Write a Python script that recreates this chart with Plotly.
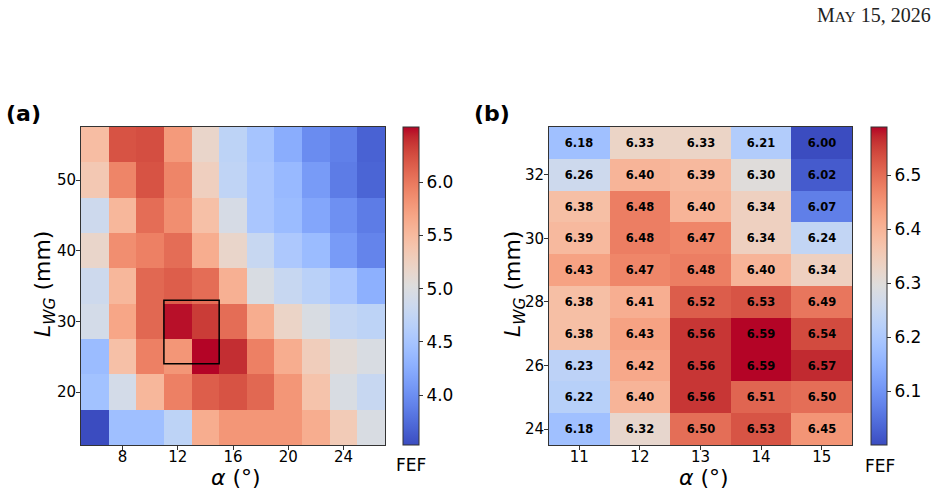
import plotly.graph_objects as go

# ---------------- data ----------------
# Panel (a): coarse scan
alpha_a = [6, 8, 10, 12, 14, 16, 18, 20, 22, 24, 26]
L_a = [55, 50, 45, 40, 35, 30, 25, 20, 15]
fef_a = [
    [5.47, 6.22, 6.25, 5.77, 5.17, 4.70, 4.49, 4.25, 3.98, 3.89, 3.68],
    [5.35, 5.92, 6.22, 5.92, 5.26, 4.73, 4.52, 4.37, 4.10, 3.86, 3.70],
    [4.85, 5.53, 6.07, 5.86, 5.44, 4.94, 4.52, 4.40, 4.19, 4.01, 3.86],
    [5.17, 5.86, 5.95, 6.07, 5.62, 5.17, 4.79, 4.55, 4.40, 4.10, 3.92],
    [4.85, 5.53, 6.10, 6.16, 6.07, 5.59, 4.97, 4.79, 4.67, 4.52, 4.28],
    [4.91, 5.68, 6.10, 6.49, 6.34, 6.07, 5.62, 5.20, 4.97, 4.76, 4.70],
    [4.40, 5.44, 5.95, 5.80, 6.52, 6.40, 5.95, 5.62, 5.29, 5.08, 4.97],
    [4.46, 4.91, 5.53, 5.95, 6.16, 6.22, 6.10, 5.80, 5.41, 4.97, 4.79],
    [3.53, 4.43, 4.43, 4.70, 5.62, 5.80, 5.80, 5.80, 5.62, 5.32, 4.97],
]
ticks_a_x = [8, 12, 16, 20, 24]
ticks_a_y = [20, 30, 40, 50]
cbar_a_ticks = [4.0, 4.5, 5.0, 5.5, 6.0]

# Panel (b): fine scan
alpha_b = [11, 12, 13, 14, 15]
L_b = [33, 32, 31, 30, 29, 28, 27, 26, 25, 24]
fef_b = [
    [6.18, 6.33, 6.33, 6.21, 6.00],
    [6.26, 6.40, 6.39, 6.30, 6.02],
    [6.38, 6.48, 6.40, 6.34, 6.07],
    [6.39, 6.48, 6.47, 6.34, 6.24],
    [6.43, 6.47, 6.48, 6.40, 6.34],
    [6.38, 6.41, 6.52, 6.53, 6.49],
    [6.38, 6.43, 6.56, 6.59, 6.54],
    [6.23, 6.42, 6.56, 6.59, 6.57],
    [6.22, 6.40, 6.56, 6.51, 6.50],
    [6.18, 6.32, 6.50, 6.53, 6.45],
]
ticks_b_x = [11, 12, 13, 14, 15]
ticks_b_y = [24, 26, 28, 30, 32]
cbar_b_ticks = [6.1, 6.2, 6.3, 6.4, 6.5]

x_title = "<i>α</i> (°)"
y_title = "<i>L</i><sub><i>WG</i></sub> (mm)"

# ---------------- style ----------------
coolwarm_rgb = [
    (59, 76, 192), (68, 90, 204), (77, 104, 215), (87, 117, 225), (98, 130, 234),
    (108, 142, 241), (119, 154, 247), (130, 165, 251), (141, 176, 254), (152, 185, 255),
    (163, 194, 255), (174, 201, 253), (184, 208, 249), (194, 213, 244), (204, 217, 238),
    (213, 219, 230), (221, 221, 221), (229, 216, 209), (236, 211, 197), (241, 204, 185),
    (245, 196, 173), (247, 187, 160), (247, 177, 148), (247, 166, 135), (244, 154, 123),
    (241, 141, 111), (236, 127, 99), (229, 112, 88), (222, 96, 77), (213, 80, 66),
    (203, 62, 56), (192, 40, 47), (180, 4, 38),
]
n = len(coolwarm_rgb) - 1
coolwarm = [[i / n, f"rgb{c}"] for i, c in enumerate(coolwarm_rgb)]

W, H = 940, 492
FONT = "DejaVu Sans"


def px_x(v):
    return v / W


def px_y(v):
    return 1 - v / H


flat_a = [v for r in fef_a for v in r]
flat_b = [v for r in fef_b for v in r]

fig = go.Figure()

fig.add_trace(go.Heatmap(
    x=alpha_a, y=L_a, z=fef_a, colorscale=coolwarm,
    zmin=min(flat_a), zmax=max(flat_a),
    xaxis="x", yaxis="y",
    colorbar=dict(
        x=px_x(403), xanchor="left", xpad=0, ypad=0,
        y=px_y(286), yanchor="middle", len=318, lenmode="pixels",
        thickness=16, thicknessmode="pixels",
        outlinewidth=1, outlinecolor="#333",
        tickvals=cbar_a_ticks, tickformat=".1f", ticks="outside",
        ticklen=4, tickcolor="#333",
        tickfont=dict(family=FONT, size=17, color="black"),
    ),
    hoverinfo="skip",
))

text_b = [[f"<b>{v:.2f}</b>" for v in r] for r in fef_b]
fig.add_trace(go.Heatmap(
    x=alpha_b, y=L_b, z=fef_b, colorscale=coolwarm,
    zmin=min(flat_b), zmax=max(flat_b),
    text=text_b, texttemplate="%{text}",
    textfont=dict(family=FONT, size=11.5, color="black"),
    xaxis="x2", yaxis="y2",
    colorbar=dict(
        x=px_x(871), xanchor="left", xpad=0, ypad=0,
        y=px_y(286), yanchor="middle", len=318, lenmode="pixels",
        thickness=16, thicknessmode="pixels",
        outlinewidth=1, outlinecolor="#333",
        tickvals=cbar_b_ticks, tickformat=".1f", ticks="outside",
        ticklen=4, tickcolor="#333",
        tickfont=dict(family=FONT, size=17, color="black"),
    ),
    hoverinfo="skip",
))

axis_common = dict(
    showgrid=False, zeroline=False, showline=True, mirror=True,
    linecolor="#333", linewidth=1, ticks="outside", ticklen=4, tickwidth=1,
    tickcolor="#333", tickfont=dict(family=FONT, size=15, color="black"),
)
xaxis_extra = dict(ticklabelstandoff=-6)
yaxis_extra = dict(ticklabelstandoff=-3)
title_font = dict(family=FONT, size=22, color="black")

dx_a = (alpha_a[1] - alpha_a[0]) / 2
dy_a = (L_a[0] - L_a[1]) / 2
dx_b = (alpha_b[1] - alpha_b[0]) / 2
dy_b = (L_b[0] - L_b[1]) / 2

fig.update_layout(
    width=W, height=H,
    margin=dict(l=0, r=0, t=0, b=0),
    paper_bgcolor="white", plot_bgcolor="white",
    showlegend=False,
    font=dict(family=FONT, color="black"),
    xaxis=dict(axis_common, **xaxis_extra, domain=[px_x(81), px_x(385)],
               range=[min(alpha_a) - dx_a, max(alpha_a) + dx_a],
               tickvals=ticks_a_x, anchor="y"),
    yaxis=dict(axis_common, **yaxis_extra, domain=[px_y(445), px_y(127)],
               range=[min(L_a) - dy_a, max(L_a) + dy_a],
               tickvals=ticks_a_y, anchor="x"),
    xaxis2=dict(axis_common, **xaxis_extra, domain=[px_x(549), px_x(852)],
                range=[min(alpha_b) - dx_b, max(alpha_b) + dx_b],
                tickvals=ticks_b_x, anchor="y2"),
    yaxis2=dict(axis_common, **yaxis_extra, domain=[px_y(445), px_y(127)],
                range=[min(L_b) - dy_b, max(L_b) + dy_b],
                tickvals=ticks_b_y, anchor="x2"),
)

# zoom box in (a) marking the range of (b)
fig.add_shape(type="rect", xref="x", yref="y",
              x0=min(alpha_b), x1=max(alpha_b), y0=min(L_b), y1=max(L_b),
              line=dict(color="black", width=1.5), fillcolor="rgba(0,0,0,0)")

annotations = [
    dict(text="<b>(a)</b>", x=px_x(4), y=px_y(113), xanchor="left", yanchor="middle",
         font=dict(family=FONT, size=22, color="black")),
    dict(text="<b>(b)</b>", x=px_x(472), y=px_y(113), xanchor="left", yanchor="middle",
         font=dict(family=FONT, size=22, color="black")),
    # axis titles
    dict(text=x_title, x=px_x(236), y=px_y(477), xanchor="center", yanchor="middle",
         borderpad=0, font=title_font),
    dict(text=x_title, x=px_x(704), y=px_y(477), xanchor="center", yanchor="middle",
         borderpad=0, font=title_font),
    dict(text=y_title, x=px_x(44), y=px_y(284), xanchor="center", yanchor="middle",
         textangle=-90, font=title_font),
    dict(text=y_title, x=px_x(514), y=px_y(284), xanchor="center", yanchor="middle",
         textangle=-90, font=title_font),
    # colorbar labels
    dict(text="FEF", x=px_x(411), y=px_y(465), xanchor="center", yanchor="middle",
         font=dict(family=FONT, size=17, color="black")),
    dict(text="FEF", x=px_x(880), y=px_y(466), xanchor="center", yanchor="middle",
         font=dict(family=FONT, size=17, color="black")),
    # running header
    dict(text='M<span style="font-size:15.5px">AY</span> 15, 2026', x=px_x(933), y=px_y(15),
         xanchor="right", yanchor="middle",
         font=dict(family="Liberation Serif", size=20, color="#222")),
]
for a in annotations:
    a.update(xref="paper", yref="paper", showarrow=False)
fig.update_layout(annotations=annotations)

fig.write_html("out.html")
